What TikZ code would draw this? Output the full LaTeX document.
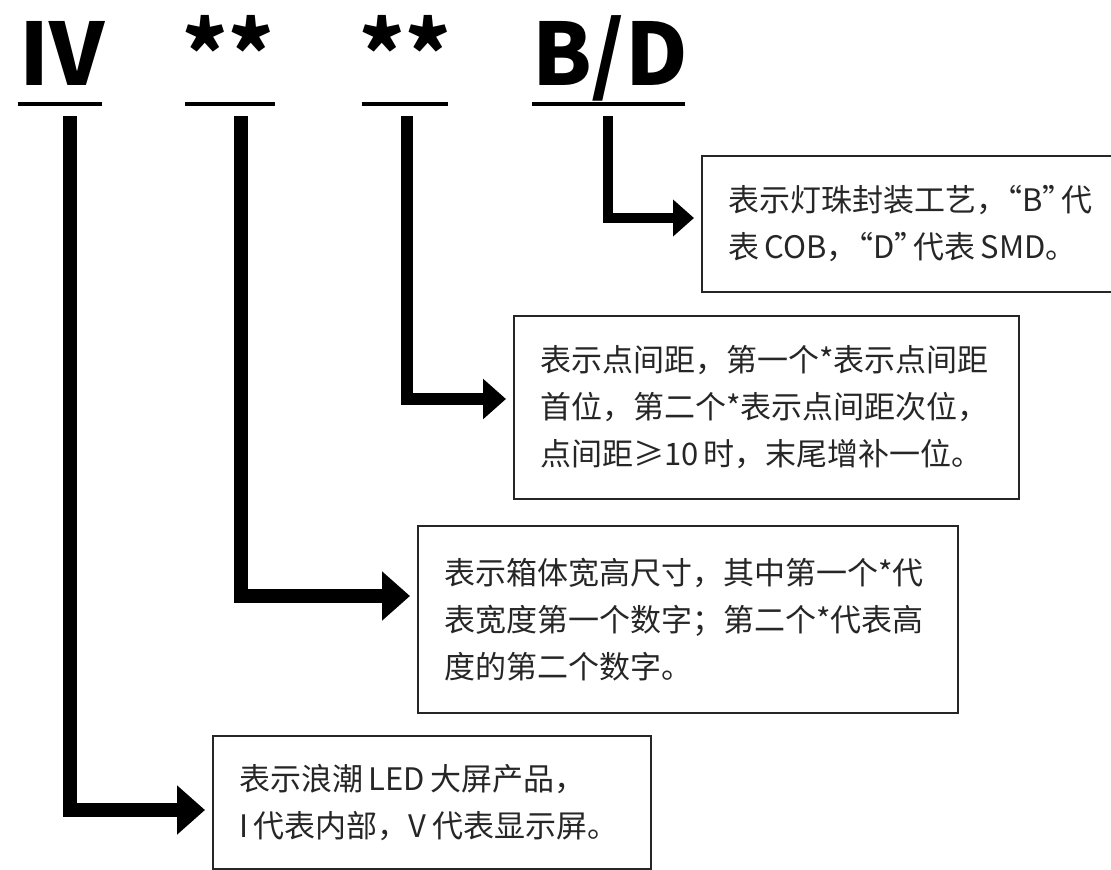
\documentclass[tikz,border=0pt]{standalone}
\usepackage{fontspec}
\newfontfamily\cjk{Noto Sans CJK SC}
\newcommand\lqt{\makebox[0.5em][r]{“}}
\newcommand\rqt{\makebox[0.6em][l]{”}}
\newcommand\gap{\kern0.18em}
\usetikzlibrary{arrows.meta,calc}

\begin{document}
\begin{tikzpicture}[x=1pt,y=-1pt,
  head/.style={anchor=base,inner sep=0pt,font=\cjk\bfseries\fontsize{86}{90}\selectfont},
  uline/.style={line width=4pt},
  box/.style={draw=black!85,line width=2pt,anchor=north west,align=left,inner xsep=26pt,inner ysep=0pt,
    text=black!85,font=\cjk\fontsize{31}{47}\selectfont},
  pointer/.style={line width=#1,-{Triangle[length=0pt 2,width=0pt 3.4]},shorten >=7pt}]
  \useasboundingbox (0,0) rectangle (1111,870);

  % 型号
  \node[head] (h1) at (62,85) {IV};
  \node[head] (h2) at (228,85) {**};
  \node[head] (h3) at (405,85) {**};
  \node[head] (h4) at (610,85) {B/D};
  \draw[uline] (18,104) -- (102,104);
  \draw[uline] (185,104) -- (275,104);
  \draw[uline] (362,104) -- (448,104);
  \draw[uline] (532,104) -- (685,104);
  \coordinate (s1) at (70,116);
  \coordinate (s2) at (241,116);
  \coordinate (s3) at (407,116);
  \coordinate (s4) at (608,116);

  % 说明框
  \node[box,text width=400pt,minimum height=136pt] (d1) at (701,155)
    {表示灯珠封装工艺，\lqt B\rqt 代\\表\gap COB，\lqt D\rqt 代表\gap SMD。};
  \node[box,text width=453pt,minimum height=183pt] (d2) at (513,315)
    {表示点间距，第一个*表示点间距\\首位，第二个*表示点间距次位，\\点间距≥10\gap 时，末尾增补一位。};
  \node[box,text width=488pt,minimum height=187pt] (d3) at (417,525)
    {表示箱体宽高尺寸，其中第一个*代\\表宽度第一个数字；第二个*代表高\\度的第二个数字。};
  \node[box,text width=386pt,minimum height=133pt] (d4) at (212,735)
    {表示浪潮\gap LED\gap 大屏产品，\\I\gap 代表内部，V\gap 代表显示屏。};

  % 箭头
  \draw[pointer=10.5pt] (s4) |- ($(d1.north west)+(0,63)$);
  \draw[pointer=11.5pt] (s3) |- ($(d2.north west)+(0,84)$);
  \draw[pointer=14pt] (s2) |- ($(d3.north west)+(0,71)$);
  \draw[pointer=14pt] (s1) |- ($(d4.north west)+(0,75)$);
\end{tikzpicture}
\end{document}
